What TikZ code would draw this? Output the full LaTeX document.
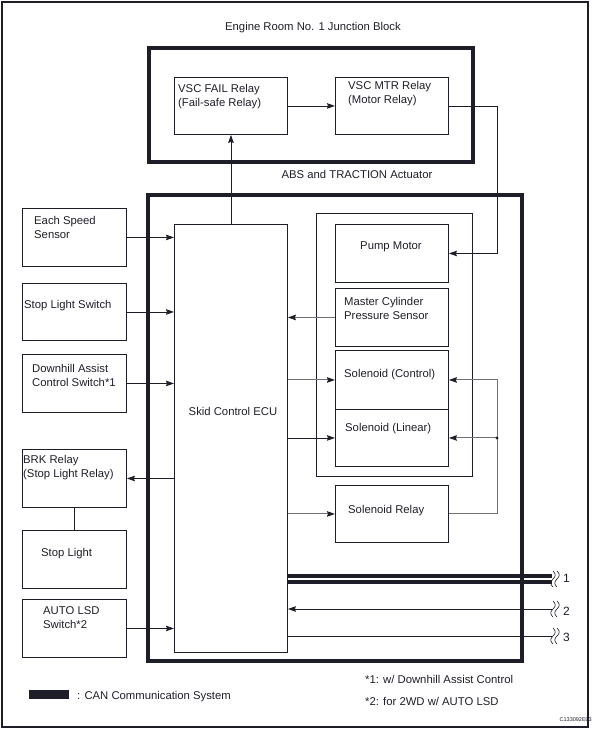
\documentclass[tikz,border=0pt]{standalone}
\usepackage{fontspec}
\setmainfont{Liberation Sans}
\usetikzlibrary{arrows.meta}
\definecolor{ink}{HTML}{1E1E28}
\definecolor{wire}{HTML}{727272}
\begin{document}
\begin{tikzpicture}[x=1pt,y=-1pt,
  font=\fontsize{11.3}{14}\selectfont,
  box/.style={draw=ink, line width=0.9pt, inner sep=0pt, anchor=north west},
  thickbox/.style={draw=ink, line width=4.5pt},
  txt/.style={text=ink, inner sep=0pt, align=left, anchor=west, yshift=-2pt},
  conn/.style={draw=ink, line width=0.8pt},
  gconn/.style={draw=wire, line width=1pt},
  arr/.style={-{Stealth[length=8pt,width=5.5pt,inset=1pt,color=ink]}},
  can/.style={draw=ink, line width=4pt},
  brkl/.style={draw=ink, line width=0.6pt},
  wavy/.pic={\foreach \dx in {0,4}{\draw[brkl] (\dx,-8) .. controls (\dx+3,-5) and (\dx+3,-3) .. (\dx,0) .. controls (\dx-3,3) and (\dx-3,5) .. (\dx,8);}}
]
\useasboundingbox (0,0) rectangle (594,732);
% outer frame
\draw[ink, line width=1.2pt] (2,2) rectangle (588,727);
% titles
\node[txt, anchor=center] (tTitle) at (313,26) {Engine Room No. 1 Junction Block};
\node[txt, anchor=center] (tAbs) at (357,172) {ABS and TRACTION Actuator};
% thick enclosures
\draw[thickbox] (149,48) rectangle (473,162);
\draw[thickbox] (148,195) rectangle (522,661);
% boxes
\node[box, minimum width=113pt, minimum height=57pt] (fail) at (174,77) {};
\node[box, minimum width=113pt, minimum height=57pt] (mtr) at (335,77) {};
\node[box, minimum width=113pt, minimum height=428pt] (ecu) at (174,224) {};
\node[box, minimum width=104pt, minimum height=58pt] (speed) at (22,208) {};
\node[box, minimum width=104pt, minimum height=57pt] (stopsw) at (22,283) {};
\node[box, minimum width=104pt, minimum height=58pt] (dhac) at (22,354) {};
\node[box, minimum width=104pt, minimum height=58pt] (brk) at (22,449) {};
\node[box, minimum width=104pt, minimum height=58pt] (stoplight) at (22,530) {};
\node[box, minimum width=104pt, minimum height=58pt] (lsd) at (22,599) {};
\node[box, minimum width=156pt, minimum height=263pt] (inner) at (316,213) {};
\node[box, minimum width=113pt, minimum height=58pt] (pump) at (335,224) {};
\node[box, minimum width=113pt, minimum height=58pt] (mc) at (335,288) {};
\node[box, minimum width=113pt, minimum height=59pt] (ctrl) at (335,350) {};
\node[box, minimum width=113pt, minimum height=57pt] (lin) at (335,409) {};
\node[box, minimum width=113pt, minimum height=57pt] (srel) at (335,485) {};
% texts
\node[txt] (tFail) at (178,95) {VSC FAIL Relay\\(Fail-safe Relay)};
\node[txt] (tMtr) at (348,92) {VSC MTR Relay\\(Motor Relay)};
\node[txt] (tSpeed) at (34,225) {Each Speed\\Sensor};
\node[txt] (tStop) at (24,304) {Stop Light Switch};
\node[txt] (tDh) at (32,373) {Downhill Assist\\Control Switch*1};
\node[txt] (tBrk) at (23,466) {BRK Relay\\(Stop Light Relay)};
\node[txt] (tSL) at (41,552) {Stop Light};
\node[txt] (tLsd) at (43,616) {AUTO LSD\\Switch*2};
\node[txt, anchor=center] (tPump) at (391,245) {Pump Motor};
\node[txt] (tMc) at (344,306) {Master Cylinder\\Pressure Sensor};
\node[txt] (tCtrl) at (344,373) {Solenoid (Control)};
\node[txt] (tLin) at (345,427) {Solenoid (Linear)};
\node[txt] (tSrel) at (348,509) {Solenoid Relay};
\node[txt, anchor=center] (tEcu) at (233,409) {Skid Control ECU};
% connectors
\coordinate (rbus) at (497,0);
\draw[conn,arr] (fail.east) -- (mtr.west);
\draw[conn,arr] (ecu.north) -- (fail.south);
\draw[conn,arr] (mtr.east) -- (mtr.east -| rbus) |- (pump.east);
\draw[conn,arr] (speed.east) -- (speed.east -| ecu.west);
\draw[conn,arr] (stopsw.east) -- (stopsw.east -| ecu.west);
\draw[conn,arr] (dhac.east) -- (dhac.east -| ecu.west);
\draw[conn,arr] (lsd.east) -- (lsd.east -| ecu.west);
\draw[conn,arr] (brk.east -| ecu.west) -- (brk.east);
\draw[conn] (brk.south) -- (stoplight.north);
\draw[gconn,arr] (mc.west) -- (mc.west -| ecu.east);
\draw[gconn,arr] (ctrl.west -| ecu.east) -- (ctrl.west);
\draw[conn,arr] (lin.west -| ecu.east) -- (lin.west);
\draw[gconn,arr] (srel.west -| ecu.east) -- (srel.west);
\draw[gconn,arr] (srel.east) -- (srel.east -| rbus) |- (ctrl.east);
\coordinate (jn) at (lin.east -| rbus);
\draw[gconn,arr] (jn) -- (lin.east);
\fill[ink] (jn) circle (1.6pt);
% bus lines
\coordinate (c1a) at (552,576);
\coordinate (c1b) at (552,582);
\coordinate (c2) at (552,609);
\coordinate (c3) at (552,636);
\draw[can] (c1a -| ecu.east) -- (c1a);
\draw[can] (c1b -| ecu.east) -- (c1b);
\draw[conn,arr] (c2) -- (c2 -| ecu.east);
\draw[conn] (c3 -| ecu.east) -- (c3);
\pic at (553,579) {wavy};
\pic at (553,609) {wavy};
\pic at (553,636) {wavy};
\node[txt, font=\fontsize{12}{14}\selectfont] (n1) at (563,576) {1};
\node[txt, font=\fontsize{12}{14}\selectfont] (n2) at (563,609) {2};
\node[txt, font=\fontsize{12}{14}\selectfont] (n3) at (563,635) {3};
% legend & notes
\fill[ink] (29,690) rectangle (69,699);
\node[txt] (tLeg) at (77,695) {: CAN Communication System};
\node[txt] (fn1) at (365,677) {*1: w/ Downhill Assist Control};
\node[txt] (fn2) at (365,699) {*2: for 2WD w/ AUTO LSD};
\node[txt, anchor=east, font=\fontsize{5.5}{6}\selectfont] (code) at (592,718) {C133092E03};
\end{tikzpicture}
\end{document}
